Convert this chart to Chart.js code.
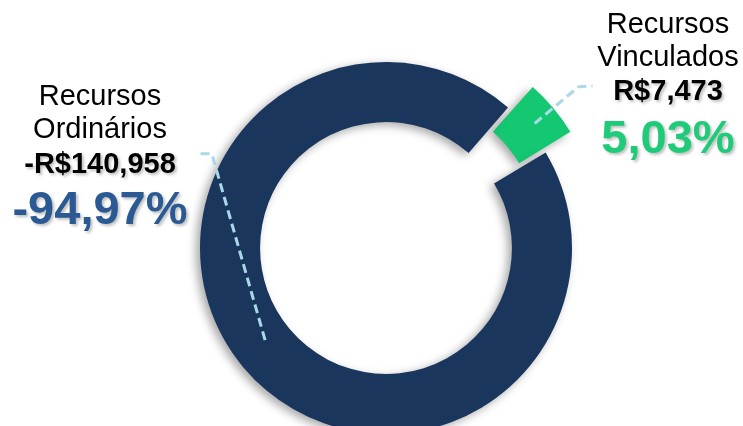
<!DOCTYPE html>
<html>
<head>
<meta charset="utf-8">
<script src="https://cdn.jsdelivr.net/npm/chart.js@4/dist/chart.umd.min.js"></script>
<style>
  html, body { margin: 0; padding: 0; background: #fff; }
  #wrap { width: 743px; height: 426px; overflow: hidden; }
</style>
</head>
<body>
<div id="wrap"><canvas id="myChart" width="743" height="426"></canvas></div>
<script>
const categories = ['Recursos Vinculados', 'Recursos Ordinários'];
const values = [7473, 140958];
const amountLabels = ['R$7,473', '-R$140,958'];
const percentLabels = ['5,03%', '-94,97%'];
const sliceColors = ['#14c872', '#1a365d'];
const percentColors = ['#1ecb78', '#2b5994'];

const ctx = document.getElementById('myChart').getContext('2d');
const pull = 38; // how far the green slice sticks out

// drop shadow under the ring
const ringShadow = {
	id: 'ringShadow',
	beforeDatasetsDraw(chart) {
		const c = chart.ctx;
		c.save();
		c.shadowColor = 'rgba(0,0,0,0.35)';
		c.shadowBlur = 10;
		c.shadowOffsetX = -4;
		c.shadowOffsetY = 3;
	},
	afterDatasetsDraw(chart) {
		chart.ctx.restore();
	}
};

// leader lines + callout text
const callouts = {
	id: 'callouts',
	afterDraw(chart) {
		const c = chart.ctx;
		const arcs = chart.getDatasetMeta(0).data;
		const deg = Math.PI / 180;

		const pt = (arc, angle, r) => ({
			x: arc.x + Math.cos(angle) * r,
			y: arc.y + Math.sin(angle) * r
		});

		c.save();
		c.strokeStyle = '#a9d9e8';
		c.lineWidth = 3;
		c.setLineDash([9, 5]);

		// green slice: from middle of ring outward, then short horizontal
		const g = arcs[0];
		const gMid = (g.startAngle + g.endAngle) / 2;
		const gR = (g.innerRadius + g.outerRadius) / 2;
		const gx = Math.cos(gMid) * pull, gy = Math.sin(gMid) * pull;
		let a = pt(g, gMid, gR), b = pt(g, gMid, g.outerRadius + 27);
		c.beginPath();
		c.moveTo(a.x + gx, a.y + gy);
		c.lineTo(b.x + gx, b.y + gy);
		c.lineTo(b.x + gx + 14, b.y + gy - 1);
		c.stroke();

		// navy slice
		const n = arcs[1];
		a = pt(n, 142.7 * deg, 152);
		b = pt(n, 208.4 * deg, n.outerRadius + 12);
		c.beginPath();
		c.moveTo(a.x, a.y);
		c.lineTo(b.x, b.y);
		c.lineTo(b.x - 14, b.y);
		c.stroke();
		c.restore();

		const drawLines = (cx, lines) => {
			lines.forEach(l => {
				c.save();
				c.font = l.font;
				c.fillStyle = l.color;
				c.textAlign = 'center';
				c.textBaseline = 'alphabetic';
				if (l.shadow) {
					c.shadowColor = 'rgba(0,0,0,0.25)';
					c.shadowBlur = 3;
					c.shadowOffsetX = 2;
					c.shadowOffsetY = 2;
				}
				c.fillText(l.text, cx, l.y);
				c.restore();
			});
		};

		const nameO = categories[1].split(' ');
		drawLines(100, [
			{ text: nameO[0], y: 105, font: '29px "Liberation Sans", Arial', color: '#000' },
			{ text: nameO[1], y: 138, font: '29px "Liberation Sans", Arial', color: '#000' },
			{ text: amountLabels[1], y: 173, font: 'bold 29px "Liberation Sans", Arial', color: '#000', shadow: true },
			{ text: percentLabels[1], y: 224, font: 'bold 47px "Liberation Sans", Arial', color: percentColors[1], shadow: true }
		]);

		const nameV = categories[0].split(' ');
		drawLines(668, [
			{ text: nameV[0], y: 33, font: '29px "Liberation Sans", Arial', color: '#000' },
			{ text: nameV[1], y: 66, font: '29px "Liberation Sans", Arial', color: '#000' },
			{ text: amountLabels[0], y: 100, font: 'bold 29px "Liberation Sans", Arial', color: '#000', shadow: true },
			{ text: percentLabels[0], y: 153, font: 'bold 47px "Liberation Sans", Arial', color: percentColors[0], shadow: true }
		]);
	}
};

new Chart(ctx, {
	type: 'doughnut',
	data: {
		labels: categories,
		datasets: [{
			data: values,
			backgroundColor: sliceColors,
			borderWidth: 0,
			offset: [pull * 2, 0],
			hoverOffset: 0,
			clip: false
		}]
	},
	options: {
		responsive: false,
		animation: false,
		rotation: 41,
		radius: 186,
		cutout: '67.7%',
		layout: {
			padding: { left: 29, right: 0, top: 70, bottom: 0 }
		},
		plugins: {
			legend: { display: false },
			tooltip: { enabled: false },
			title: { display: false }
		}
	},
	plugins: [ringShadow, callouts]
});
</script>
</body>
</html>
